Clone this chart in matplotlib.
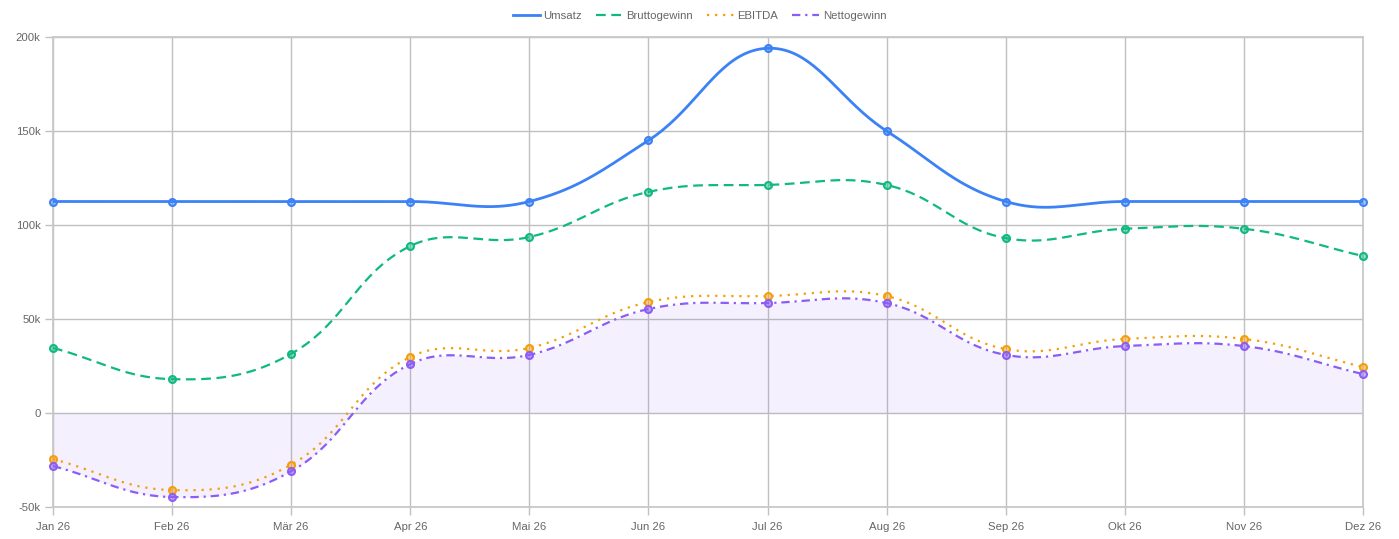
import numpy as np
import matplotlib
matplotlib.use("Agg")
import matplotlib.pyplot as plt
from matplotlib.colors import to_rgba

plt.rcParams["font.family"] = ["Liberation Sans", "DejaVu Sans"]
plt.rcParams["lines.scale_dashes"] = False

months = ["Jan 26", "Feb 26", "Mär 26", "Apr 26", "Mai 26", "Jun 26",
          "Jul 26", "Aug 26", "Sep 26", "Okt 26", "Nov 26", "Dez 26"]
umsatz = [112.5, 112.5, 112.5, 112.5, 112.5, 145, 194, 150, 112.5, 112.5, 112.5, 112.5]
brutto = [34.6, 18, 31.5, 88.8, 93.6, 117.6, 121.3, 121.3, 93, 98, 98, 83.5]
ebitda = [-24.5, -41, -27.5, 29.8, 34.6, 59, 62.2, 62.2, 34, 39.4, 39.4, 24.5]
netto = [-28.2, -44.7, -31, 26, 30.9, 55.3, 58.5, 58.5, 30.9, 35.6, 35.6, 20.7]

# pixel scale used for the chart.js style spline (x px per month, y px per 1k)
SX, SY = 119.1, 1.88


def chartjs_spline(vals, tension=0.4, n=40):
    px = np.arange(len(vals)) * SX
    py = np.array(vals, dtype=float) * SY
    pts = np.column_stack([px, py])
    cp_prev, cp_next = [], []
    for i in range(len(pts)):
        prev = pts[max(i - 1, 0)]
        cur = pts[i]
        nxt = pts[min(i + 1, len(pts) - 1)]
        d01 = np.hypot(*(cur - prev))
        d12 = np.hypot(*(nxt - cur))
        s01 = d01 / (d01 + d12) if d01 + d12 else 0
        s12 = d12 / (d01 + d12) if d01 + d12 else 0
        cp_prev.append(cur - tension * s01 * (nxt - prev))
        cp_next.append(cur + tension * s12 * (nxt - prev))
    xs, ys = [], []
    t = np.linspace(0, 1, n)[:, None]
    for i in range(len(pts) - 1):
        p0, p1, p2, p3 = pts[i], cp_next[i], cp_prev[i + 1], pts[i + 1]
        b = ((1 - t) ** 3) * p0 + 3 * ((1 - t) ** 2) * t * p1 + 3 * (1 - t) * t ** 2 * p2 + t ** 3 * p3
        if i > 0:
            b = b[1:]
        xs.append(b[:, 0])
        ys.append(b[:, 1])
    return np.concatenate(xs) / SX, np.concatenate(ys) / SY


fig = plt.figure(figsize=(13.99, 5.39), dpi=100)
ax = fig.add_axes([53 / 1399, 1 - 507 / 539, 1310 / 1399, 470 / 539])

series = [
    ("Umsatz", umsatz, "#3b82f6", "-", 2.0),
    ("Bruttogewinn", brutto, "#10b981", (0, (7, 4)), 1.6),
    ("EBITDA", ebitda, "#f59e0b", (0, (1.6, 4.2)), 1.6),
    ("Nettogewinn", netto, "#8b5cf6", (0, (6, 3.5, 1.6, 3.5)), 1.6),
]

x = np.arange(len(months))
for name, vals, color, ls, lw in series:
    sx, sy = chartjs_spline(vals)
    if name == "Nettogewinn":
        ax.fill_between(sx, sy, 0, color=color, alpha=0.09, linewidth=0, zorder=1)
    ax.plot(sx, sy, color=color, linestyle=ls, linewidth=lw, label=name, zorder=3,
            dash_capstyle="butt")
    face = to_rgba(color, 0.45)
    ax.plot(x, vals, linestyle="none", marker="o", markersize=5, markeredgewidth=1.5,
            markeredgecolor=color, markerfacecolor=face, zorder=4, clip_on=False)

ax.set_xlim(0, len(months) - 1)
ax.set_ylim(-50, 200)
ax.set_yticks([-50, 0, 50, 100, 150, 200])
ax.set_yticklabels(["-50k", "0", "50k", "100k", "150k", "200k"])
ax.set_xticks(x)
ax.set_xticklabels(months)
ax.set_axisbelow(True)
ax.grid(True, color="#c0c0c0", linewidth=1.0)
for sp in ax.spines.values():
    sp.set_color("#c8c8c8")
    sp.set_linewidth(1.3)
ax.tick_params(axis="both", colors="#c0c0c0", labelcolor="#666666", labelsize=8.2,
               length=6, width=1.0)
ax.tick_params(axis="x", pad=5)
ax.tick_params(axis="y", pad=3)

leg = fig.legend(loc="center", bbox_to_anchor=(0.5, 1 - 16 / 539), ncol=4, frameon=False,
                 fontsize=8.2, handlelength=2.4, handletextpad=0.3, columnspacing=1.2,
                 labelcolor="#666666")

fig.savefig("out.png", dpi=100)
